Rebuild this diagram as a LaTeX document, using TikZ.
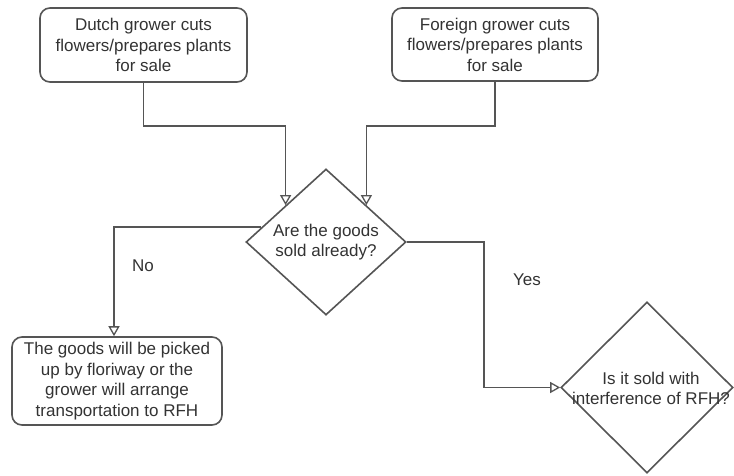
\documentclass[tikz,border=0pt]{standalone}
\usepackage{fontspec}
\setmainfont{Liberation Sans}
\usetikzlibrary{shapes.geometric,arrows.meta,calc}
\definecolor{ln}{HTML}{555555}
\definecolor{tx}{HTML}{333333}
\begin{document}
\begin{tikzpicture}[x=1pt,y=-1pt,
  font=\fontsize{17}{20.5}\selectfont, text=tx,
  procbox/.style={draw=ln, line width=1.6pt, rounded corners=10pt, align=center, inner sep=0pt},
  decis/.style={draw=ln, line width=1.6pt, diamond, inner sep=0pt},
  arr/.style={draw=ln, line width=1.6pt, -{Triangle[open,length=10pt,width=11pt,line width=1.3pt]}},
  lbl/.style={inner sep=0pt}]
\useasboundingbox (0,0) rectangle (734,475);
\fill[white] (0,0) rectangle (734,475);
\node[procbox, minimum width=207pt, minimum height=74pt] (b1) at (143.5,45) {Dutch grower cuts\\flowers/prepares plants\\for sale};
\node[procbox, minimum width=206pt, minimum height=73pt] (b2) at (495,44.5) {Foreign grower cuts\\flowers/prepares plants\\for sale};
\node[decis, minimum width=160pt, minimum height=146pt,
  label={[align=center,lbl]center:Are the goods\\sold already?}] (d1) at (326,242) {};
\node[procbox, minimum width=210pt, minimum height=88pt] (b3) at (117,381) {The goods will be picked\\up by floriway or the\\grower will arrange\\transportation to RFH};
\node[decis, minimum width=172pt, minimum height=171pt,
  label={[align=center,lbl,xshift=4pt,yshift=-1pt]center:Is it sold with\\interference of RFH?}] (d2) at (647,387.5) {};
\coordinate (m1) at (0,126);
\draw[arr] (b1.south) -- (b1.south |- m1) -| (d1.north west);
\draw[arr] (b2.south) -- (b2.south |- m1) -| (d1.north east);
\draw[arr] ($(d1.west)!0.2!(d1.north)$) -| ([xshift=-3pt]b3.north);
\draw[arr] (d1.east) -- ++(77,0) |- (d2.west);
\node[lbl] (no) at (143,266) {No};
\node[lbl] (yes) at (527,280) {Yes};
\end{tikzpicture}
\end{document}
